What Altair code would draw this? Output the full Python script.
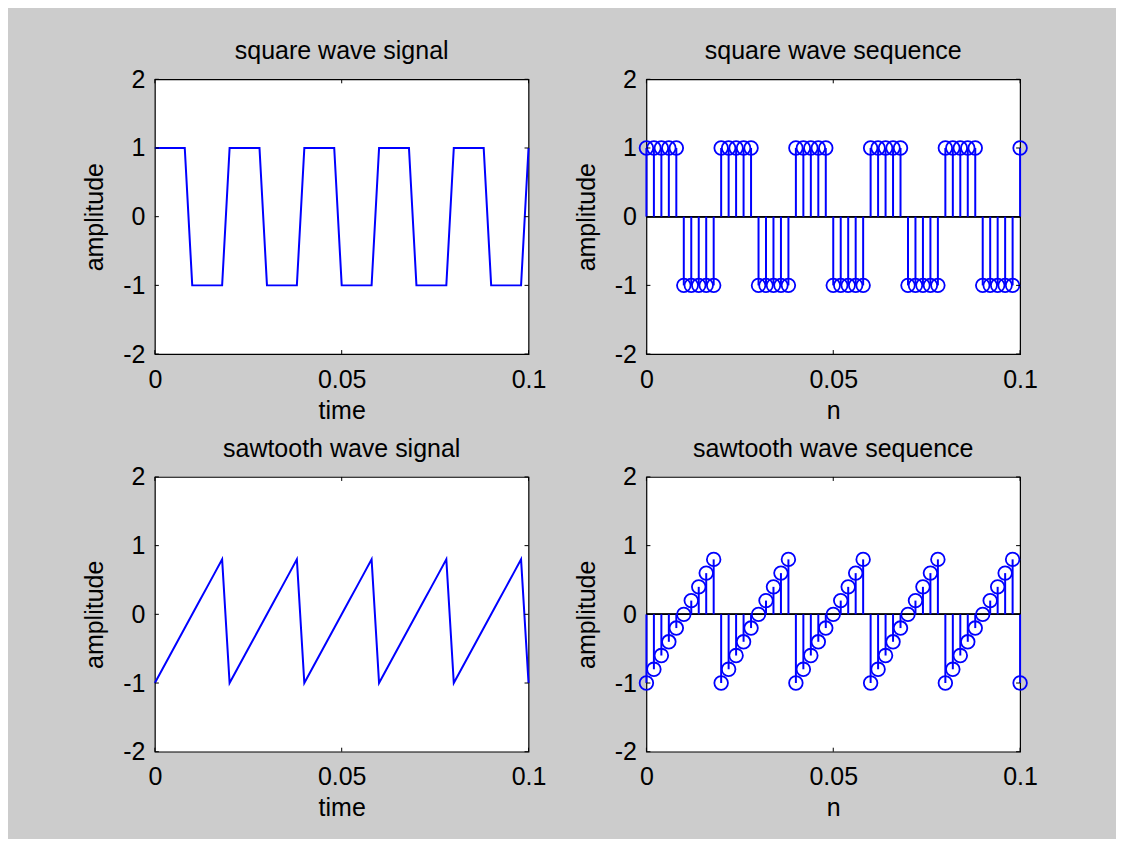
import altair as alt
import pandas as pd

# sample instants (s)
t = [0.000, 0.002, 0.004, 0.006, 0.008, 0.010, 0.012, 0.014, 0.016, 0.018,
     0.020, 0.022, 0.024, 0.026, 0.028, 0.030, 0.032, 0.034, 0.036, 0.038,
     0.040, 0.042, 0.044, 0.046, 0.048, 0.050, 0.052, 0.054, 0.056, 0.058,
     0.060, 0.062, 0.064, 0.066, 0.068, 0.070, 0.072, 0.074, 0.076, 0.078,
     0.080, 0.082, 0.084, 0.086, 0.088, 0.090, 0.092, 0.094, 0.096, 0.098,
     0.100]

square_vals = [1, 1, 1, 1, 1, -1, -1, -1, -1, -1,
               1, 1, 1, 1, 1, -1, -1, -1, -1, -1,
               1, 1, 1, 1, 1, -1, -1, -1, -1, -1,
               1, 1, 1, 1, 1, -1, -1, -1, -1, -1,
               1, 1, 1, 1, 1, -1, -1, -1, -1, -1,
               1]

saw_vals = [-1.0, -0.8, -0.6, -0.4, -0.2, 0.0, 0.2, 0.4, 0.6, 0.8,
            -1.0, -0.8, -0.6, -0.4, -0.2, 0.0, 0.2, 0.4, 0.6, 0.8,
            -1.0, -0.8, -0.6, -0.4, -0.2, 0.0, 0.2, 0.4, 0.6, 0.8,
            -1.0, -0.8, -0.6, -0.4, -0.2, 0.0, 0.2, 0.4, 0.6, 0.8,
            -1.0, -0.8, -0.6, -0.4, -0.2, 0.0, 0.2, 0.4, 0.6, 0.8,
            -1.0]

x_ticks = [0, 0.05, 0.1]
y_ticks = [-2, -1, 0, 1, 2]

titles = ["square wave signal", "square wave sequence",
          "sawtooth wave signal", "sawtooth wave sequence"]
x_titles = ["time", "n", "time", "n"]
y_title = "amplitude"

W, H = 374, 275
BLUE = "#0000ff"
TL = 4  # tick length in px

sq_df = pd.DataFrame({"t": t, "v": square_vals})
sw_df = pd.DataFrame({"t": t, "v": saw_vals})
xt_df = pd.DataFrame({"x": x_ticks})
yt_df = pd.DataFrame({"y": y_ticks})

xscale = alt.Scale(domain=[0, 0.1], nice=False, zero=False)
yscale = alt.Scale(domain=[-2, 2], nice=False, zero=False)


def xenc(field, title):
    return alt.X(f"{field}:Q", scale=xscale,
                 axis=alt.Axis(values=x_ticks, title=title,
                               labelExpr="'' + datum.value"))


def yenc(field):
    return alt.Y(f"{field}:Q", scale=yscale,
                 axis=alt.Axis(values=y_ticks, title=y_title,
                               labelExpr="'' + datum.value"))


def tick_layers(xtitle):
    xb = alt.Chart(xt_df).mark_rule(color="black", strokeWidth=1).encode(
        x=xenc("x", xtitle), y=alt.value(H - TL), y2=alt.value(H))
    xtp = alt.Chart(xt_df).mark_rule(color="black", strokeWidth=1).encode(
        x=xenc("x", xtitle), y=alt.value(0), y2=alt.value(TL))
    yl = alt.Chart(yt_df).mark_rule(color="black", strokeWidth=1).encode(
        y=yenc("y"), x=alt.value(0), x2=alt.value(TL))
    yr = alt.Chart(yt_df).mark_rule(color="black", strokeWidth=1).encode(
        y=yenc("y"), x=alt.value(W - TL), x2=alt.value(W))
    return [xb, xtp, yl, yr]


def signal_panel(df, title, xtitle):
    line = alt.Chart(df).mark_line(color=BLUE, strokeWidth=2).encode(
        x=xenc("t", xtitle), y=yenc("v"), order="t:Q")
    return alt.layer(line, *tick_layers(xtitle)).properties(
        width=W, height=H,
        title=alt.TitleParams(title, anchor="middle", frame="group"))


def stem_panel(df, title, xtitle):
    zero = alt.Chart(xt_df).mark_rule(color="black", strokeWidth=1.5).encode(
        x=alt.value(0), x2=alt.value(W), y=alt.datum(0, scale=yscale))
    stems = alt.Chart(df).mark_rule(color=BLUE, strokeWidth=2).encode(
        x=xenc("t", xtitle), y=yenc("v"), y2=alt.datum(0))
    circles = alt.Chart(df).mark_point(
        shape="circle", filled=False, color=BLUE, size=185, strokeWidth=1.8,
        opacity=1).encode(x=xenc("t", xtitle), y=yenc("v"))
    return alt.layer(zero, stems, circles, *tick_layers(xtitle)).properties(
        width=W, height=H,
        title=alt.TitleParams(title, anchor="middle", frame="group"))


p1 = signal_panel(sq_df, titles[0], x_titles[0])
p2 = stem_panel(sq_df, titles[1], x_titles[1])
p3 = signal_panel(sw_df, titles[2], x_titles[2])
p4 = stem_panel(sw_df, titles[3], x_titles[3])

FONT = "Liberation Sans"
FS = 25

chart = alt.concat(p1, p2, p3, p4, columns=2, spacing={"row": 123, "column": 118},
                   bounds="flush").configure(
    background="#cccccc",
    padding={"left": 74, "top": 30, "right": 78, "bottom": 17},
    font=FONT,
).configure_view(
    fill="white", stroke="black", strokeWidth=1.2
).configure_axis(
    domain=False, ticks=False, grid=False,
    labelFontSize=FS, labelColor="black", labelFont=FONT,
    titleFontSize=FS, titleColor="black", titleFont=FONT, titleFontWeight="normal",
    labelFlush=False, labelOverlap=False, labelBound=False,
).configure_axisX(
    labelPadding=13, titlePadding=6
).configure_axisY(
    labelPadding=10, titlePadding=15
).configure_title(
    fontSize=FS, fontWeight="normal", color="black", font=FONT, offset=3
)

chart.save("out.html", embed_options={"renderer": "svg", "actions": False})
